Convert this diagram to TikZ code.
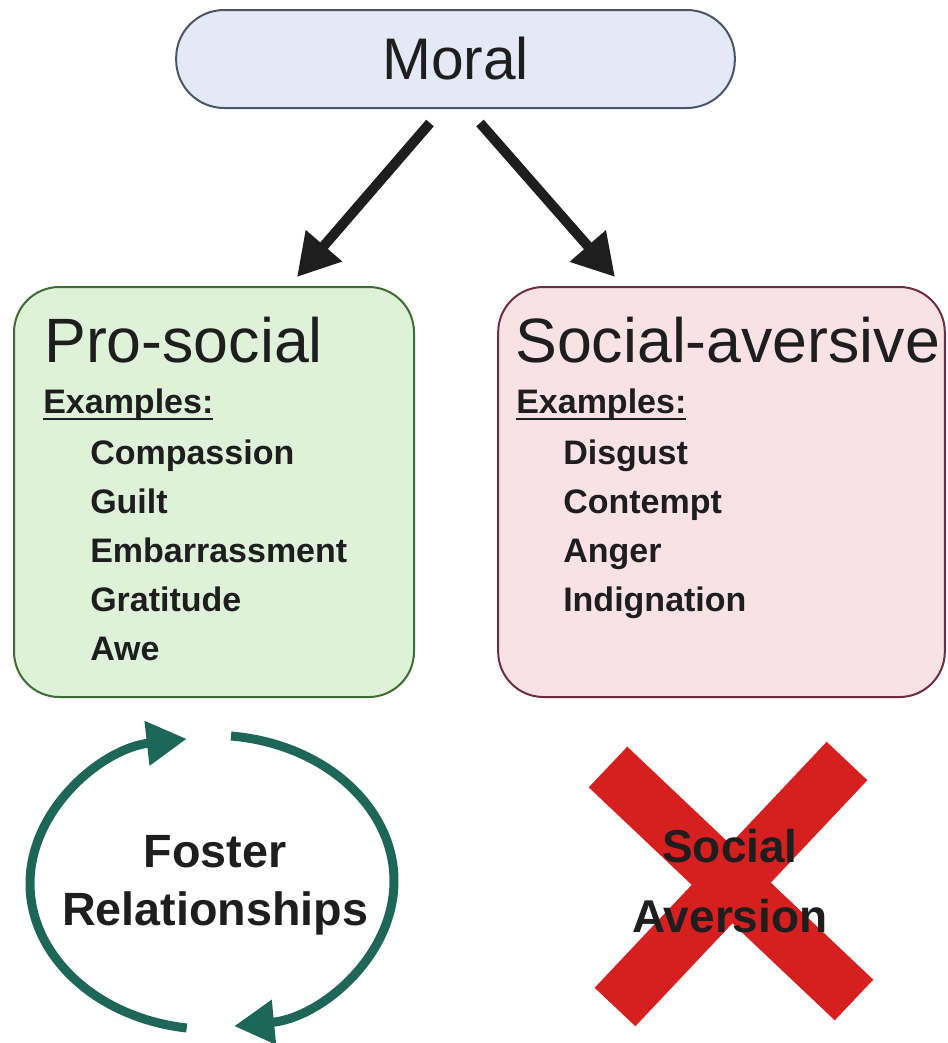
\documentclass[tikz,border=0pt]{standalone}
\usepackage{fontspec}
\setmainfont{Liberation Sans}
\usepackage{tikz}
\usetikzlibrary{arrows.meta}
\definecolor{ink}{HTML}{1E1E1E}
\definecolor{moralfill}{HTML}{E4E9F8}
\definecolor{moraldraw}{HTML}{4B5468}
\definecolor{profill}{HTML}{DEF2DA}
\definecolor{prodraw}{HTML}{3D6B34}
\definecolor{avfill}{HTML}{F9E2E7}
\definecolor{avdraw}{HTML}{6E2E42}
\definecolor{cyclegreen}{HTML}{1E6658}
\definecolor{crossred}{HTML}{D61F1F}
\newcommand{\exline}[1]{\setbox0\hbox{#1}\rlap{\rule[-5pt]{\wd0}{1.5pt}}\box0}

\begin{document}
\begin{tikzpicture}[x=0.75pt,y=-0.75pt,node distance=36.75pt,
  emobox/.style={draw,line width=1.5pt,rounded corners=34pt,minimum width=#1,minimum height=307.5pt},
  titletext/.style={font=\fontsize{47}{56}\selectfont,text=ink,inner sep=0pt,anchor=base west},
  itemtext/.style={font=\bfseries\fontsize{25.5}{30}\selectfont,text=ink,inner sep=0pt,
    text width=250pt,align=left,text height=19pt,text depth=6pt},
  bigarrow/.style={-{Triangle[length=31pt,width=34pt]},line width=7.5pt,draw=ink},
  cyclearrow/.style={-{Triangle[length=30pt,width=32pt]},line width=6.75pt,draw=cyclegreen},
  crossbar/.style={line width=42pt,draw=crossred},
  bigtext/.style={font=\bfseries\fontsize{35}{43.5}\selectfont,text=ink,align=center,inner sep=0pt}]
  \useasboundingbox (0,0) rectangle (948,1043);

  % top node
  \node[draw=moraldraw,fill=moralfill,line width=1.5pt,rounded corners=36pt,
        minimum width=419pt,minimum height=73.5pt,text=ink,
        font=\fontsize{44}{52}\selectfont] (moral) at (455.5,59) {Moral};

  % the two boxes
  \node[emobox=300pt,draw=prodraw,fill=profill]   (pro) at (214,492) {};
  \node[emobox=335pt,draw=avdraw,fill=avfill]     (av)  at (721.5,492) {};

  \coordinate (mleft)  at (430,123);
  \coordinate (mright) at (480,123);
  \coordinate (proin)  at (297,277);
  \coordinate (avin)   at (615,277);
  \draw[bigarrow] (mleft) -- (proin);
  \draw[bigarrow] (mright) -- (avin);

  % pro-social text
  \node[titletext] (protitle) at (44,362) {Pro-social};
  \node[itemtext,anchor=base west] (proex) at (43,413) {\exline{Examples:}};
  \node[itemtext,anchor=base west] (compassion) at (90,464) {Compassion};
  \node[itemtext] (guilt) [below of=compassion] {Guilt};
  \node[itemtext] (embarrassment) [below of=guilt] {Embarrassment};
  \node[itemtext] (gratitude) [below of=embarrassment] {Gratitude};
  \node[itemtext] (awe) [below of=gratitude] {Awe};

  % social-aversive text
  \node[titletext] (avtitle) at (515,362) {Social-aversive};
  \node[itemtext,anchor=base west] (avex) at (516,413) {\exline{Examples:}};
  \node[itemtext,anchor=base west] (disgust) at (563,464) {Disgust};
  \node[itemtext] (contempt) [below of=disgust] {Contempt};
  \node[itemtext] (anger) [below of=contempt] {Anger};
  \node[itemtext] (indignation) [below of=anger] {Indignation};

  % cycle
  \coordinate (cyc1) at (186.7,1028);
  \coordinate (cyc2) at (231,736);
  \draw[cyclearrow] (cyc1) arc[start angle=262,end angle=98,x radius=136.5pt,y radius=109.5pt];
  \draw[cyclearrow] (cyc2) arc[start angle=84,end angle=-83,x radius=136.5pt,y radius=109.5pt];
  \node[bigtext,anchor=base] (foster) at (215,925) {Foster\\Relationships};

  % cross
  \draw[crossbar] (608,767) -- (854,1000);
  \draw[crossbar] (847,761) -- (615,1007);
  \node[bigtext,font=\bfseries\fontsize{34.5}{52}\selectfont,anchor=base] (aversion) at (730,932) {Social\\Aversion};
\end{tikzpicture}
\end{document}
